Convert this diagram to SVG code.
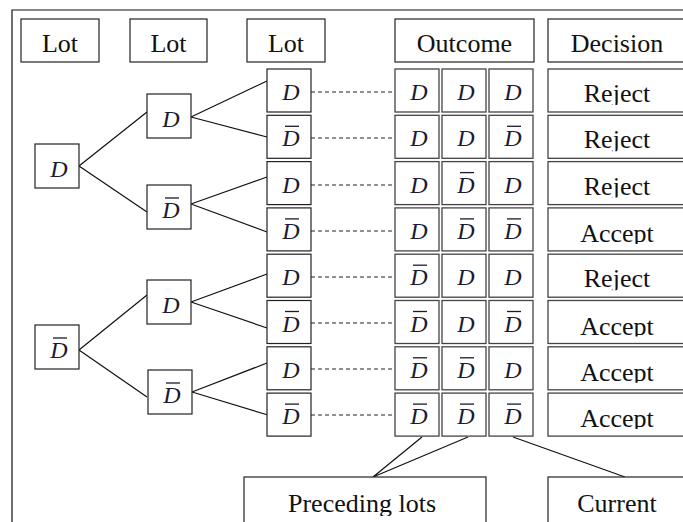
<svg xmlns="http://www.w3.org/2000/svg" width="683" height="522" viewBox="0 0 683 522">
<style>
.bx{fill:#fff;stroke:#222;stroke-width:1.2}
.cell{fill:#fff;stroke:#444;stroke-width:1.3}
.t{font-family:"Liberation Serif","Times New Roman",serif;font-size:26px;fill:#111;text-anchor:middle}
.d{font-family:"Liberation Serif","Times New Roman",serif;font-size:24px;font-style:italic;fill:#1a1a33;text-anchor:middle}
.bar{stroke:#1a1a33;stroke-width:1.3}
.ln{stroke:#111;stroke-width:1.2;fill:none}
.dash{stroke:#222;stroke-width:1.2;stroke-dasharray:4 3;fill:none}
</style>
<defs>
<clipPath id="cp1"><rect x="548" y="69" width="140" height="36"/></clipPath>
<clipPath id="cp2"><rect x="548" y="115.3" width="140" height="36"/></clipPath>
<clipPath id="cp3"><rect x="548" y="161.6" width="140" height="36"/></clipPath>
<clipPath id="cp4"><rect x="548" y="207.9" width="140" height="36"/></clipPath>
<clipPath id="cp5"><rect x="548" y="254.2" width="140" height="36"/></clipPath>
<clipPath id="cp6"><rect x="548" y="300.5" width="140" height="36"/></clipPath>
<clipPath id="cp7"><rect x="548" y="346.8" width="140" height="36"/></clipPath>
<clipPath id="cp8"><rect x="548" y="393.1" width="140" height="36"/></clipPath>
<clipPath id="cpP"><rect x="244" y="477" width="243" height="39"/></clipPath>
<clipPath id="cpC"><rect x="548" y="477" width="140" height="39"/></clipPath>
</defs>
<rect width="683" height="522" fill="#fff"/>
<path class="ln" d="M12 522V10H683"/>

<g id="headers">
<g id="h-lot1"><rect class="bx" x="21" y="19" width="78" height="43"/><text class="t" x="60" y="52">Lot</text></g>
<g id="h-lot2"><rect class="bx" x="130" y="19" width="77" height="43"/><text class="t" x="168.5" y="52">Lot</text></g>
<g id="h-lot3"><rect class="bx" x="247" y="19" width="78" height="43"/><text class="t" x="286" y="52">Lot</text></g>
<g id="h-outcome"><rect class="bx" x="395" y="19" width="139" height="43"/><text class="t" x="464.5" y="52">Outcome</text></g>
<g id="h-decision"><rect class="bx" x="548" y="19" width="140" height="43"/><text class="t" x="617" y="52">Decision</text></g>
</g>

<g id="connectors">
<path class="ln" d="M79 166L147 112M79 166L147 212"/>
<path class="ln" d="M191 117L267 81M191 117L267 137"/>
<path class="ln" d="M191 204L267 177M191 204L267 232"/>
<path class="ln" d="M79 350L147 295M79 350L147 397"/>
<path class="ln" d="M191 302L267 274M191 302L267 328"/>
<path class="ln" d="M192 392L267 363M192 392L268 415"/>
<path class="dash" d="M311 92H395M311 138H395M311 185H395M311 231H395M311 277H395M311 323H395M311 369H395M311 415H395"/>
<path class="ln" d="M422 437L373 477M468 437L373 477M513 437L625 477"/>
</g>

<g id="n-l1-D"><rect class="bx" x="35" y="144" width="44" height="44"/><text class="d" x="59" y="177">D</text></g>
<g id="n-l1-Db"><rect class="bx" x="35" y="325" width="44" height="44"/><text class="d" x="59" y="358">D</text><line class="bar" x1="53" y1="338" x2="67" y2="338"/></g>
<g id="n-l2-D1"><rect class="bx" x="147" y="94" width="44" height="44"/><text class="d" x="171" y="127">D</text></g>
<g id="n-l2-Db1"><rect class="bx" x="147" y="185" width="44" height="44"/><text class="d" x="171" y="218">D</text><line class="bar" x1="165" y1="198" x2="179" y2="198"/></g>
<g id="n-l2-D2"><rect class="bx" x="147" y="280" width="44" height="44"/><text class="d" x="171" y="313">D</text></g>
<g id="n-l2-Db2"><rect class="bx" x="148" y="370" width="44" height="44"/><text class="d" x="172" y="403">D</text><line class="bar" x1="166" y1="383" x2="180" y2="383"/></g>

<g id="n-l3-1"><rect class="bx" x="267" y="69" width="44" height="43"/><text class="d" x="291" y="100">D</text></g>
<g id="n-l3-2"><rect class="bx" x="267" y="115.3" width="44" height="43"/><text class="d" x="291" y="146.3">D</text><line class="bar" x1="285" y1="126.3" x2="299" y2="126.3"/></g>
<g id="n-l3-3"><rect class="bx" x="267" y="161.6" width="44" height="43"/><text class="d" x="291" y="192.6">D</text></g>
<g id="n-l3-4"><rect class="bx" x="267" y="207.9" width="44" height="43"/><text class="d" x="291" y="238.9">D</text><line class="bar" x1="285" y1="218.9" x2="299" y2="218.9"/></g>
<g id="n-l3-5"><rect class="bx" x="267" y="254.2" width="44" height="43"/><text class="d" x="291" y="285.2">D</text></g>
<g id="n-l3-6"><rect class="bx" x="267" y="300.5" width="44" height="43"/><text class="d" x="291" y="331.5">D</text><line class="bar" x1="285" y1="311.5" x2="299" y2="311.5"/></g>
<g id="n-l3-7"><rect class="bx" x="267" y="346.8" width="44" height="43"/><text class="d" x="291" y="377.8">D</text></g>
<g id="n-l3-8"><rect class="bx" x="267" y="393.1" width="44" height="43"/><text class="d" x="291" y="424.1">D</text><line class="bar" x1="285" y1="404.1" x2="299" y2="404.1"/></g>

<g id="outcomes">
<g id="o-1">
<rect class="cell" x="395" y="69" width="44" height="43"/><text class="d" x="419" y="100">D</text>
<rect class="cell" x="442" y="69" width="44" height="43"/><text class="d" x="466" y="100">D</text>
<rect class="cell" x="489" y="69" width="44" height="43"/><text class="d" x="513" y="100">D</text>
</g>
<g id="o-2">
<rect class="cell" x="395" y="115.3" width="44" height="43"/><text class="d" x="419" y="146.3">D</text>
<rect class="cell" x="442" y="115.3" width="44" height="43"/><text class="d" x="466" y="146.3">D</text>
<rect class="cell" x="489" y="115.3" width="44" height="43"/><text class="d" x="513" y="146.3">D</text><line class="bar" x1="507" y1="126.3" x2="521" y2="126.3"/>
</g>
<g id="o-3">
<rect class="cell" x="395" y="161.6" width="44" height="43"/><text class="d" x="419" y="192.6">D</text>
<rect class="cell" x="442" y="161.6" width="44" height="43"/><text class="d" x="466" y="192.6">D</text><line class="bar" x1="460" y1="172.6" x2="474" y2="172.6"/>
<rect class="cell" x="489" y="161.6" width="44" height="43"/><text class="d" x="513" y="192.6">D</text>
</g>
<g id="o-4">
<rect class="cell" x="395" y="207.9" width="44" height="43"/><text class="d" x="419" y="238.9">D</text>
<rect class="cell" x="442" y="207.9" width="44" height="43"/><text class="d" x="466" y="238.9">D</text><line class="bar" x1="460" y1="218.9" x2="474" y2="218.9"/>
<rect class="cell" x="489" y="207.9" width="44" height="43"/><text class="d" x="513" y="238.9">D</text><line class="bar" x1="507" y1="218.9" x2="521" y2="218.9"/>
</g>
<g id="o-5">
<rect class="cell" x="395" y="254.2" width="44" height="43"/><text class="d" x="419" y="285.2">D</text><line class="bar" x1="413" y1="265.2" x2="427" y2="265.2"/>
<rect class="cell" x="442" y="254.2" width="44" height="43"/><text class="d" x="466" y="285.2">D</text>
<rect class="cell" x="489" y="254.2" width="44" height="43"/><text class="d" x="513" y="285.2">D</text>
</g>
<g id="o-6">
<rect class="cell" x="395" y="300.5" width="44" height="43"/><text class="d" x="419" y="331.5">D</text><line class="bar" x1="413" y1="311.5" x2="427" y2="311.5"/>
<rect class="cell" x="442" y="300.5" width="44" height="43"/><text class="d" x="466" y="331.5">D</text>
<rect class="cell" x="489" y="300.5" width="44" height="43"/><text class="d" x="513" y="331.5">D</text><line class="bar" x1="507" y1="311.5" x2="521" y2="311.5"/>
</g>
<g id="o-7">
<rect class="cell" x="395" y="346.8" width="44" height="43"/><text class="d" x="419" y="377.8">D</text><line class="bar" x1="413" y1="357.8" x2="427" y2="357.8"/>
<rect class="cell" x="442" y="346.8" width="44" height="43"/><text class="d" x="466" y="377.8">D</text><line class="bar" x1="460" y1="357.8" x2="474" y2="357.8"/>
<rect class="cell" x="489" y="346.8" width="44" height="43"/><text class="d" x="513" y="377.8">D</text>
</g>
<g id="o-8">
<rect class="cell" x="395" y="393.1" width="44" height="43"/><text class="d" x="419" y="424.1">D</text><line class="bar" x1="413" y1="404.1" x2="427" y2="404.1"/>
<rect class="cell" x="442" y="393.1" width="44" height="43"/><text class="d" x="466" y="424.1">D</text><line class="bar" x1="460" y1="404.1" x2="474" y2="404.1"/>
<rect class="cell" x="489" y="393.1" width="44" height="43"/><text class="d" x="513" y="424.1">D</text><line class="bar" x1="507" y1="404.1" x2="521" y2="404.1"/>
</g>
</g>

<g id="decisions">
<g id="dec-1"><rect class="cell" x="548" y="69" width="140" height="43"/><text class="t" x="617" y="102" clip-path="url(#cp1)">Reject</text></g>
<g id="dec-2"><rect class="cell" x="548" y="115.3" width="140" height="43"/><text class="t" x="617" y="148.3" clip-path="url(#cp2)">Reject</text></g>
<g id="dec-3"><rect class="cell" x="548" y="161.6" width="140" height="43"/><text class="t" x="617" y="194.6" clip-path="url(#cp3)">Reject</text></g>
<g id="dec-4"><rect class="cell" x="548" y="207.9" width="140" height="43"/><text class="t" x="617" y="241.9" clip-path="url(#cp4)">Accept</text></g>
<g id="dec-5"><rect class="cell" x="548" y="254.2" width="140" height="43"/><text class="t" x="617" y="287.2" clip-path="url(#cp5)">Reject</text></g>
<g id="dec-6"><rect class="cell" x="548" y="300.5" width="140" height="43"/><text class="t" x="617" y="334.5" clip-path="url(#cp6)">Accept</text></g>
<g id="dec-7"><rect class="cell" x="548" y="346.8" width="140" height="43"/><text class="t" x="617" y="380.8" clip-path="url(#cp7)">Accept</text></g>
<g id="dec-8"><rect class="cell" x="548" y="393.1" width="140" height="43"/><text class="t" x="617" y="427.1" clip-path="url(#cp8)">Accept</text></g>
</g>

<g id="n-preceding"><rect class="bx" x="244" y="477" width="242" height="50"/><text class="t" x="362" y="512" clip-path="url(#cpP)">Preceding lots</text></g>
<g id="n-current"><rect class="bx" x="548" y="477" width="140" height="50"/><text class="t" x="617" y="512" clip-path="url(#cpC)">Current</text></g>
</svg>
